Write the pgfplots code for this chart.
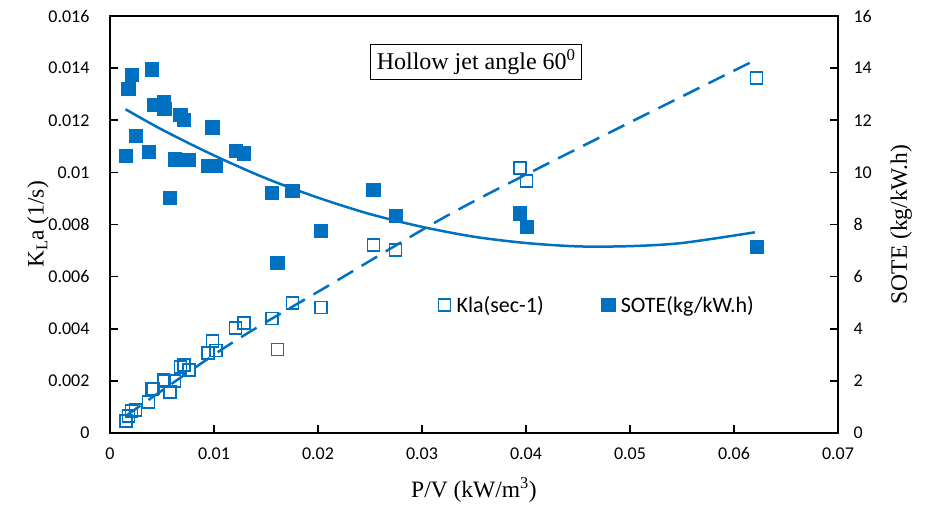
\documentclass[border=0pt]{standalone}
\usepackage{fontspec}
\setmainfont{Liberation Serif}
\newfontfamily\calibri{Carlito}
\usepackage{pgfplots}
\pgfplotsset{compat=1.18}
\definecolor{xlblue}{RGB}{0,112,192}

\pgfplotstableread{
x y
0.00151 0.00047
0.00176 0.00065
0.00208 0.00084
0.00244 0.00088
0.00369 0.00120
0.00401 0.00169
0.00417 0.00170
0.00513 0.00203
0.00522 0.00200
0.00577 0.00157
0.00619 0.00200
0.00676 0.00254
0.00712 0.00260
0.00760 0.00242
0.00940 0.00306
0.00984 0.00353
0.01020 0.00316
0.01208 0.00402
0.01288 0.00423
0.01555 0.00440
0.01609 0.00321
0.01753 0.00498
0.02029 0.00481
0.02532 0.00721
0.02747 0.00702
0.03942 0.01016
0.04006 0.00968
0.06218 0.01361
}\klatable

\pgfplotstableread{
x y
0.00151 10.64
0.00176 13.20
0.00208 13.76
0.00244 11.41
0.00369 10.79
0.00401 13.96
0.00417 12.59
0.00513 12.71
0.00522 12.43
0.00577 9.02
0.00619 10.50
0.00676 12.20
0.00712 12.01
0.00760 10.48
0.00940 10.25
0.00984 11.73
0.01020 10.25
0.01208 10.82
0.01288 10.73
0.01555 9.22
0.01609 6.52
0.01753 9.29
0.02029 7.75
0.02532 9.32
0.02747 8.33
0.03942 8.43
0.04006 7.92
0.06218 7.15
}\sotetable

\pgfplotsset{
  common/.style={
    at={(0pt,0pt)}, anchor=south west,
    width=728pt, height=417pt, scale only axis,
    xmin=0, xmax=0.07,
    tick align=inside,
    major tick length=8pt,
    axis line style={line width=1.6pt},
    every tick/.style={black, line width=1.6pt},
    tick label style={font=\calibri\fontsize{18}{20}\selectfont},
    label style={font=\fontsize{23.5}{25}\selectfont},
    /pgf/number format/assume math mode=true,
  }
}

\begin{document}
\begin{tikzpicture}
\begin{axis}[common,
  ymin=0, ymax=0.016,
  xtick pos=bottom, ytick pos=left,
  xtick={0,0.01,0.02,0.03,0.04,0.05,0.06,0.07},
  xticklabels={0,0.01,0.02,0.03,0.04,0.05,0.06,0.07},
  ytick={0,0.002,0.004,0.006,0.008,0.01,0.012,0.014,0.016},
  yticklabels={0,0.002,0.004,0.006,0.008,0.01,0.012,0.014,0.016},
  scaled x ticks=false, scaled y ticks=false,
  xticklabel style={yshift=-11pt},
  yticklabel style={xshift=-17pt},
  xlabel={P/V (kW/m\textsuperscript{3})},
  ylabel={K\textsubscript{L}a (1/s)},
  xlabel shift=11pt,
  ylabel shift=-7pt,
]
\addplot[xlblue, line width=2.5pt, dash pattern=on 18pt off 10pt, smooth] coordinates {
(0.0015,0.00065) (0.0115,0.0034) (0.0212,0.0057) (0.0327,0.0084) (0.0449,0.0109) (0.062,0.0143)};
\addplot[only marks, mark=square, mark size=6pt, mark options={draw=xlblue, line width=1.6pt, fill=none}] table[x=x,y=y] {\klatable};
\node[draw, line width=1pt, inner xsep=6pt, inner ysep=5pt, font=\fontsize{24}{26}\selectfont] at (rel axis cs:0.503,0.89) {Hollow jet angle 60\textsuperscript{0}};
\end{axis}
\begin{axis}[common,
  ymin=0, ymax=16,
  axis x line=none,
  axis y line*=right,
  ytick={0,2,...,16},
  yticklabel style={xshift=12pt},
  ylabel={SOTE (kg/kW.h)},
  ylabel shift=12pt,
  legend style={at={(0.672,0.307)}, anchor=center, draw=none, fill=none,
    font=\calibri\fontsize{22}{24}\selectfont, legend columns=2,
    /tikz/every even column/.append style={column sep=52pt},
    nodes={inner xsep=6pt}},
  legend cell align=left,
]
\addlegendimage{only marks, mark=square, mark size=6pt, mark options={draw=xlblue, line width=1.6pt, fill=none}}
\addlegendentry{Kla(sec-1)}
\addplot[xlblue, line width=2.5pt, smooth, forget plot] coordinates {
(0.0015,12.42) (0.005,11.64) (0.01,10.65) (0.015,9.77) (0.02,9.03) (0.025,8.40) (0.03,7.91) (0.035,7.53) (0.04,7.29) (0.045,7.16) (0.05,7.17) (0.055,7.29) (0.062,7.70)};
\addplot[only marks, mark=square*, mark size=6.6pt, mark options={draw=xlblue, fill=xlblue, line width=0.5pt}] table[x=x,y=y] {\sotetable};
\addlegendentry{SOTE(kg/kW.h)}
\end{axis}
\pgfresetboundingbox
\path[use as bounding box] (-110pt,-72pt) rectangle (818pt,433pt);
\end{tikzpicture}
\end{document}
